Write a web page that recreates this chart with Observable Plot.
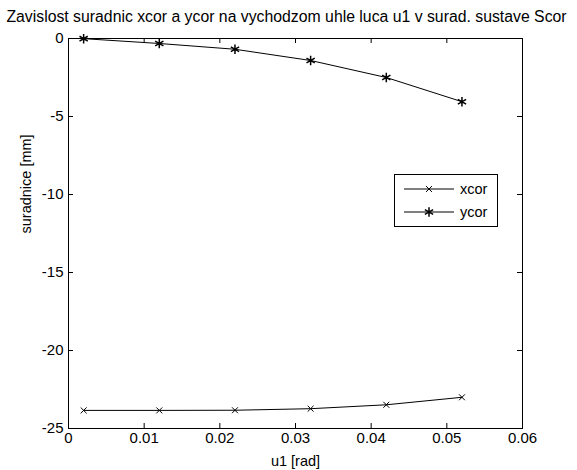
<!DOCTYPE html>
<html>
<head>
<meta charset="utf-8">
<script src="https://cdn.jsdelivr.net/npm/d3@7"></script>
<script src="https://cdn.jsdelivr.net/npm/@observablehq/plot@0.6"></script>
<style>
  html, body { margin: 0; padding: 0; background: #fff; }
  #wrap { position: relative; width: 577px; height: 470px; font-family: "Liberation Sans", Arial, sans-serif; }
  #title { box-sizing: border-box; height: 29px; padding-top: 9px; font-size: 15.8px; line-height: 16px; text-align: center; white-space: nowrap; color: #000; margin-left: -4px; }
  #legend { position: absolute; left: 394px; top: 174px; }
</style>
</head>
<body>
<div id="wrap">
  <div id="title">Zavislost suradnic xcor a ycor na vychodzom uhle luca u1 v surad. sustave Scor</div>
  <div id="chart"></div>
  <div id="legend"></div>
</div>
<script>
const u1 = [0.002, 0.012, 0.022, 0.032, 0.042, 0.052];
const xcor = [-23.84, -23.84, -23.83, -23.73, -23.48, -23.0];
const ycor = [-0.01, -0.32, -0.69, -1.41, -2.5, -4.05];
const xTicks = [0, 0.01, 0.02, 0.03, 0.04, 0.05, 0.06];
const yTicks = [-25, -20, -15, -10, -5, 0];
const seriesNames = ["xcor", "ycor"];
const xLabel = "u1 [rad]";
const yLabel = "suradnice [mm]";

const rows = [];
u1.forEach((u, i) => {
  rows.push({u, v: xcor[i], s: "xcor"});
  rows.push({u, v: ycor[i], s: "ycor"});
});
const xRows = rows.filter(d => d.s === "xcor");
const yRows = rows.filter(d => d.s === "ycor");

const W = 577, H = 441;
const mL = 68, mR = 55, mT = 9, mB = 42;
const fw = W - mL - mR, fh = H - mT - mB;
const tick = 5;
const fmt = d => String(+d.toFixed(2));

const chart = Plot.plot({
  width: W, height: H,
  marginLeft: mL, marginRight: mR, marginTop: mT, marginBottom: mB,
  style: { fontFamily: "'Liberation Sans', Arial, sans-serif", fontSize: "15px", color: "#000", background: "#fff", overflow: "visible" },
  x: { domain: [0, 0.06] },
  y: { domain: [-25, 0] },
  marks: [
    Plot.frame({ stroke: "black", strokeWidth: 1 }),
    Plot.tickX(xTicks, { x: d => d, insetTop: fh - tick, stroke: "black" }),
    Plot.tickX(xTicks, { x: d => d, insetBottom: fh - tick, stroke: "black" }),
    Plot.tickY(yTicks, { y: d => d, insetRight: fw - tick, stroke: "black" }),
    Plot.tickY(yTicks, { y: d => d, insetLeft: fw - tick, stroke: "black" }),
    Plot.axisX(xTicks, { tickSize: 0, tickPadding: 4, tickFormat: fmt, label: null, fill: "black" }),
    Plot.axisY(yTicks, { tickSize: 0, tickPadding: 5, tickFormat: d => String(d), label: null, fill: "black" }),
    Plot.line(xRows, { x: "u", y: "v", stroke: "black", strokeWidth: 1 }),
    Plot.line(yRows, { x: "u", y: "v", stroke: "black", strokeWidth: 1 }),
    Plot.dot(xRows, { x: "u", y: "v", symbol: "times", r: 2.8, stroke: "black", strokeWidth: 1 }),
    Plot.dot(yRows, { x: "u", y: "v", symbol: "asterisk", r: 4.5, stroke: "black", strokeWidth: 1.5 }),
    Plot.text([xLabel], { text: d => d, frameAnchor: "bottom", dy: 33, lineAnchor: "middle", fill: "black", fontSize: 14.5 }),
    Plot.text([yLabel], { text: d => d, frameAnchor: "left", dx: -42, rotate: -90, lineAnchor: "middle", fill: "black", fontSize: 14.5 })
  ]
});
document.getElementById("chart").appendChild(chart);

// legend
const lw = 103, lh = 52;
const lg = d3.select("#legend").append("svg").attr("width", lw + 1).attr("height", lh + 1)
  .style("font-family", "'Liberation Sans', Arial, sans-serif").style("font-size", "14.5px");
lg.append("rect").attr("x", 0.5).attr("y", 0.5).attr("width", lw).attr("height", lh).attr("fill", "white").attr("stroke", "black");
const symbols = { xcor: [d3.symbolTimes, 2.8, 1], ycor: [d3.symbolAsterisk, 4.5, 1.5] };
seriesNames.forEach((name, i) => {
  const cy = 15 + i * 23;
  const g = lg.append("g");
  g.append("line").attr("x1", 10).attr("x2", 60).attr("y1", cy).attr("y2", cy).attr("stroke", "black");
  const [type, r, sw] = symbols[name];
  g.append("path").attr("d", d3.symbol(type, r * r * Math.PI)()).attr("transform", `translate(35,${cy})`)
    .attr("fill", "none").attr("stroke", "black").attr("stroke-width", sw);
  g.append("text").attr("x", 66).attr("y", cy).attr("dy", "0.35em").text(name);
});
</script>
</body>
</html>
